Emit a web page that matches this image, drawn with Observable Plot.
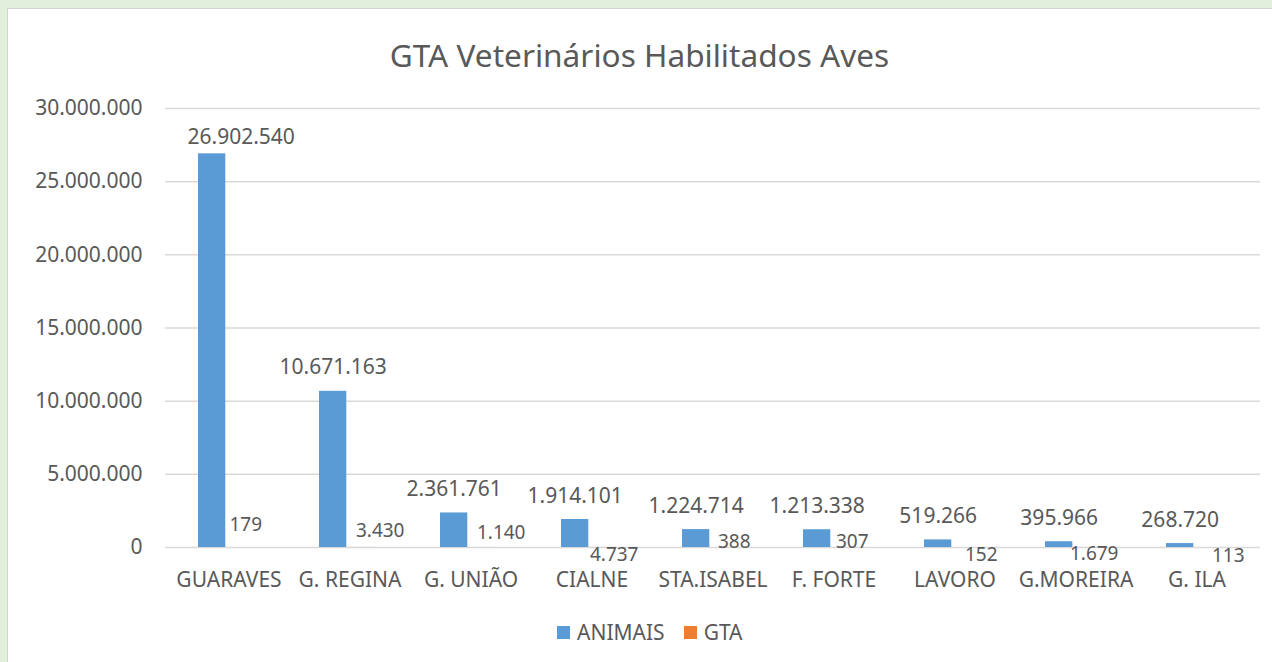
<!DOCTYPE html>
<html>
<head>
<meta charset="utf-8">
<script src="https://cdn.jsdelivr.net/npm/d3@7"></script>
<script src="https://cdn.jsdelivr.net/npm/@observablehq/plot@0.6"></script>
<style>
  html, body { margin: 0; padding: 0; }
  body { width: 1272px; height: 662px; background: #e2efda; position: relative; overflow: hidden; font-family: "Noto Sans", sans-serif; }
  #panel { position: absolute; left: 7px; top: 8px; width: 1265px; height: 654px; background: #fff; border-left: 1px solid #d4d4d4; border-top: 1px solid #d4d4d4; }
  #title { position: absolute; left: 7px; top: 33px; width: 1265px; text-align: center; font-size: 31.6px; line-height: 44px; color: #595959; }
  #chart { position: absolute; left: 0; top: 80px; }
  #legend { position: absolute; left: 557px; top: 619px; height: 26px; display: flex; align-items: center; font-size: 21px; line-height: 26px; color: #595959; }
  .sw { width: 13px; height: 13px; margin-right: 7px; display: inline-block; }
  .item { display: flex; align-items: center; margin-right: 19px; }
</style>
</head>
<body>
<div id="panel"></div>
<div id="title">GTA Veterinários Habilitados Aves</div>
<div id="chart"></div>
<div id="legend"></div>
<script>
const categories = ["GUARAVES", "G. REGINA", "G. UNIÃO", "CIALNE", "STA.ISABEL", "F. FORTE", "LAVORO", "G.MOREIRA", "G. ILA"];
const animais = [26902540, 10671163, 2361761, 1914101, 1224714, 1213338, 519266, 395966, 268720];
const gta = [179, 3430, 1140, 4737, 388, 307, 152, 1679, 113];
const seriesNames = ["ANIMAIS", "GTA"];
const seriesColors = ["#5b9bd5", "#ed7d31"];
const yTicks = [0, 5000000, 10000000, 15000000, 20000000, 25000000, 30000000];

const fmt = d3.formatLocale({decimal: ",", thousands: ".", grouping: [3], currency: ["R$", ""]}).format(",d");
const rows = categories.map((c, i) => ({cat: c, animais: animais[i], gta: gta[i]}));

// manual label nudges (as in the original chart) for the GTA value labels
const gtaNudge = [[16.7, -22.7], [30.2, -16.2], [30.2, -14.7], [22.2, 7], [21.2, -5.2], [18.2, -5.2], [26.2, 7], [18.2, 6.5], [31.2, 8.5]];

const marks = [
  Plot.gridY(yTicks, {stroke: "#d9d9d9", strokeOpacity: 1, strokeWidth: 1.5}),
  Plot.barY(rows, {x: "cat", y: "animais", fill: seriesColors[0], insetLeft: 30, insetRight: 63.7}),
  Plot.barY(rows, {x: "cat", y: "gta", fill: seriesColors[1], insetLeft: 58, insetRight: 35.7}),
  Plot.text(rows.slice(0, 1), {x: "cat", y: "animais", text: d => fmt(d.animais), dx: 12.2, dy: -16.2}),
  Plot.text(rows.slice(1), {x: "cat", y: "animais", text: d => fmt(d.animais), dx: -16.8, dy: -23.7})
];
rows.forEach((r, i) => {
  marks.push(Plot.text([r], {x: "cat", y: "gta", text: d => fmt(d.gta), fontSize: 19, dx: gtaNudge[i][0], dy: gtaNudge[i][1]}));
});

const chart = Plot.plot({
  width: 1272,
  height: 540,
  marginLeft: 165,
  marginRight: 12,
  marginTop: 28,
  marginBottom: 73,
  style: {fontFamily: "'Noto Sans', sans-serif", fontSize: "21px", color: "#595959", background: "transparent", overflow: "visible"},
  x: {domain: categories, padding: 0, label: null, tickSize: 0, tickPadding: 25},
  y: {domain: [0, 30000000], ticks: yTicks, tickFormat: fmt, label: null, tickSize: 0, tickPadding: 23},
  marks
});
document.getElementById("chart").appendChild(chart);

const legend = document.getElementById("legend");
seriesNames.forEach((name, i) => {
  const item = document.createElement("div");
  item.className = "item";
  const sw = document.createElement("span");
  sw.className = "sw";
  sw.style.background = seriesColors[i];
  const t = document.createElement("span");
  t.textContent = name;
  item.appendChild(sw);
  item.appendChild(t);
  legend.appendChild(item);
});
</script>
</body>
</html>
